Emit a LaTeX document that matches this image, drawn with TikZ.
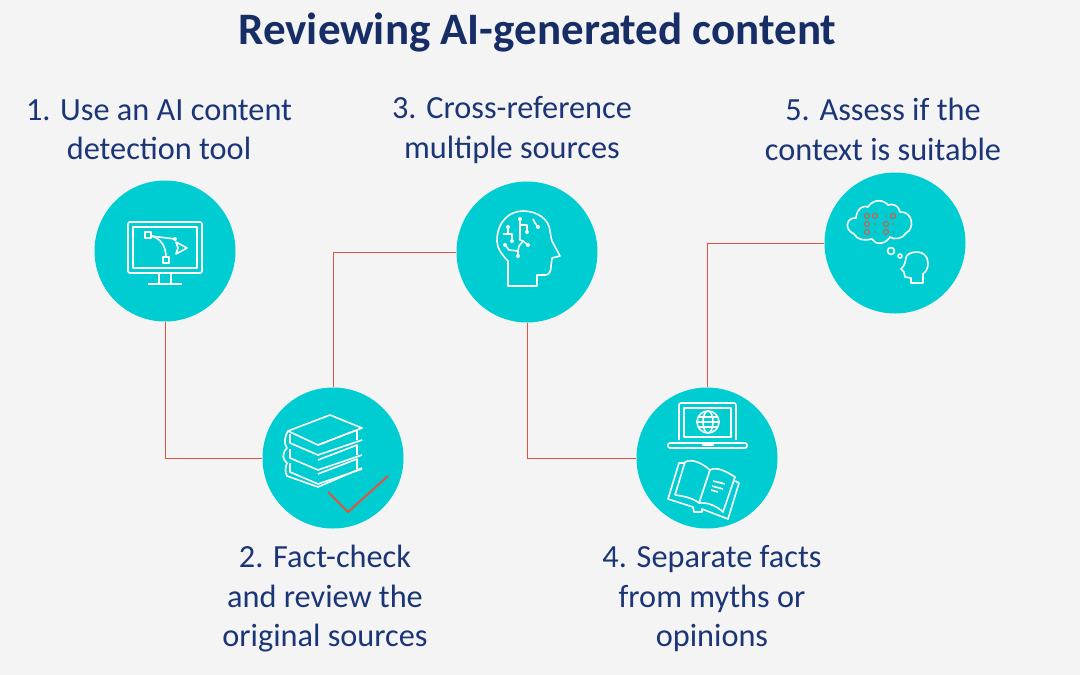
\documentclass[tikz,border=0pt]{standalone}
\usepackage{fontspec}
\setmainfont{Carlito}
\usetikzlibrary{arrows.meta}

\definecolor{bgrey}{HTML}{F4F4F4}
\definecolor{teal}{HTML}{00CDD2}
\definecolor{navy}{HTML}{1B3577}
\definecolor{redline}{HTML}{E2543F}

\tikzset{
  disc/.style={circle, fill=teal, minimum size=141pt, inner sep=0pt},
  caption/.style={text=navy, align=center, font=\fontsize{32.3}{39.5}\selectfont},
  link/.style={redline, line width=1pt},
  icon/.style={white, line width=1.6pt, line join=round},
  tick/.style={redline, line width=2pt},
}

\begin{document}
\begin{tikzpicture}[x=1pt, y=-1pt]
    \useasboundingbox (0,0) rectangle (1080,675);
    \fill[bgrey] (0,0) rectangle (1080,675);
    \node[text=navy!85!black, font=\fontsize{45}{52}\selectfont\bfseries] (title) at (537.5,33) {Reviewing AI-generated content};
    % circles
    \node[disc] (tool) at (165,251) {};
    \node[disc] (check) at (333,458) {};
    \node[disc] (brain) at (527,252) {};
    \node[disc] (facts) at (707,458) {};
    \node[disc] (cloud) at (895,243) {};
    % captions
    \node[caption] (tooltxt) at (159,129.5) {1. Use an AI content\\detection tool};
    \node[caption] (checktxt) at (325,599) {2. Fact-check\\and review the\\original sources};
    \node[caption] (braintxt) at (512,130) {3. Cross-reference\\multiple sources};
    \node[caption] (factstxt) at (712,599) {4. Separate facts\\from myths or\\opinions};
    \node[caption] (cloudtxt) at (883,129.5) {5. Assess if the\\context is suitable};
    % connect circles
    \draw[link] (tool.south) |- (check.west);
    \draw[link] (check.north) |- (brain.west);
    \draw[link] (brain.south) |- (facts.west);
    \draw[link] (facts.north) |- (cloud.west);
    % monitor
    \begin{scope}[shift={(tool)}, icon]
        \draw[rounded corners=1.5pt] (-37,-29) rectangle (37,22);
        \draw (-32,-24) rectangle (32,17);
        \draw (-6,22) -- (-6,33) (6,22) -- (6,33) (-17,33) -- (17,33);
        \draw (-20,-19) rectangle (-14,-13);
        \draw (-2,6) rectangle (4,12);
        \draw (-14,-15) -- (10,-12);
        \draw (-14,-15) .. controls (-4,-13) and (1,-4) .. (1,6);
        \fill[white] (10,-12) circle (2);
        \draw (11,-9) -- (22,-3) -- (11,3) -- (13,-3) -- cycle;
    \end{scope}
    % books
    \begin{scope}[shift={(check)}, icon]
        \draw (-45,-27) -- (-3,-43) -- (29,-30) -- (-15,-13) -- cycle;
        \foreach \dy in {0,15,29} {
            \draw[yshift=-\dy pt] (-43,-24) -- (-43,-15) -- (-15,-3) -- (29,-18);
            \draw[yshift=-\dy pt] (-15,-13) -- (24,-28) -- (24,-18);
        }
        \draw (-45,-27) .. controls (-49,-20) and (-49,-14) .. (-46,-10) .. controls (-52,-4) and (-50,2) .. (-46,5) .. controls (-48,10) and (-48,14) .. (-46,18) -- (-15,29) -- (29,10);
    \end{scope}
    \draw[tick] ([shift={(-5,34)}]check.center) -- ([shift={(15,54)}]check.center) -- ([shift={(55,18)}]check.center);
    % head with circuits
    \begin{scope}[shift={(brain)}, icon]
        \draw (-19,34) -- (-19,9) .. controls (-26,2) and (-30,-5) .. (-30,-11) .. controls (-30,-30) and (-18,-41) .. (-4,-41) .. controls (10,-41) and (22,-33) .. (23,-21) .. controls (24,-16) and (24,-13) .. (25,-11) -- (33,4) -- (25,6) -- (24,14) .. controls (24,20) and (22,23) .. (18,23) -- (10,23) -- (10,34) -- cycle;
        \draw (-24,-18) -- (-15,-18) -- (-15,-11) (-19,-25) -- (-19,-18);
        \draw (-7,-33) -- (-7,-12) -- (-4,-11) -- (1,-7) (-7,-27) -- (0,-27) -- (0,-20);
        \draw (-22,-7) -- (-18,-2) -- (-9,-1) -- (-9,4) (-9,-1) -- (-8,-6) -- (-4,-11);
        \draw (6,-33) -- (8,-29) -- (11,-25);
        \foreach \dotx/\doty in {-19/-25,-15/-11,-7/-33,0/-20,-22/-7,1/-7,-9/4,11/-25}
            \fill[white] (\dotx,\doty) circle (2);
    \end{scope}
    % laptop and open book
    \begin{scope}[shift={(facts)}, icon]
        \draw[rounded corners=2pt] (-28,-18) -- (-28,-55) -- (29,-55) -- (29,-18);
        \draw (-23,-50) rectangle (24,-21);
        \draw[rounded corners=2pt] (-39,-15) rectangle (40,-10);
        \draw (-4,-15) -- (-4,-13) -- (6,-13) -- (6,-15);
        \draw (1,-36) circle (11);
        \draw (1,-36) ellipse (5 and 11);
        \draw (-10,-36) -- (12,-36) (-8,-41) -- (10,-41) (-8,-31) -- (10,-31);
        \draw (-32,37) -- (-22,4) .. controls (-14,0) and (-4,6) .. (3,12) -- (-8,45) .. controls (-14,40) and (-24,38) .. (-32,37);
        \draw (3,12) .. controls (10,8) and (20,14) .. (28,19) -- (16,54) .. controls (10,48) and (0,44) .. (-8,45);
        \draw (-22,5) -- (-28,5) -- (-39,41) -- (-14,49) -- (-13,54) -- (-5,54) -- (-5,51) -- (21,61) -- (32,25) -- (28,23);
        \draw (6,23) -- (18,26) (5,28) -- (16,31) (4,32) -- (11,34);
    \end{scope}
    % thought cloud and head
    \begin{scope}[shift={(cloud)}, icon]
        \draw (-41,-9) .. controls (-52,-14) and (-48,-26) .. (-39,-25) .. controls (-38,-36) and (-30,-38) .. (-27,-36) .. controls (-22,-44) and (-12,-44) .. (-7,-38) .. controls (-2,-40) and (4,-37) .. (5,-31) .. controls (18,-32) and (20,-14) .. (11,-10) .. controls (8,-4) and (-1,-3) .. (-5,-6) .. controls (-10,2) and (-20,2) .. (-23,-4) .. controls (-30,-2) and (-38,-3) .. (-41,-9) -- cycle;
        \draw (-4,8) circle (3.5);
        \draw (5,13) circle (2);
        \draw (16,40) -- (28,40) -- (28,31) .. controls (32,28) and (33,24) .. (33,20) .. controls (33,13) and (28,9) .. (22,9) .. controls (15,9) and (11,12) .. (11,15) .. controls (10,20) and (10,22) .. (6,26) -- (9,29) -- (10,34) -- (16,35) -- cycle;
        \foreach \gridx/\gridy in {-28/-27,-20/-27,-2/-27,-28/-19,-9/-19,-28/-11,-9/-11}
            \draw[redline, line width=1pt] (\gridx,\gridy) circle (2.5);
        \foreach \gridx/\gridy in {-9/-27,-20/-19,-2/-19,-20/-11,-2/-11}
            \fill[redline] (\gridx,\gridy) circle (0.9);
    \end{scope}
\end{tikzpicture}
\end{document}
